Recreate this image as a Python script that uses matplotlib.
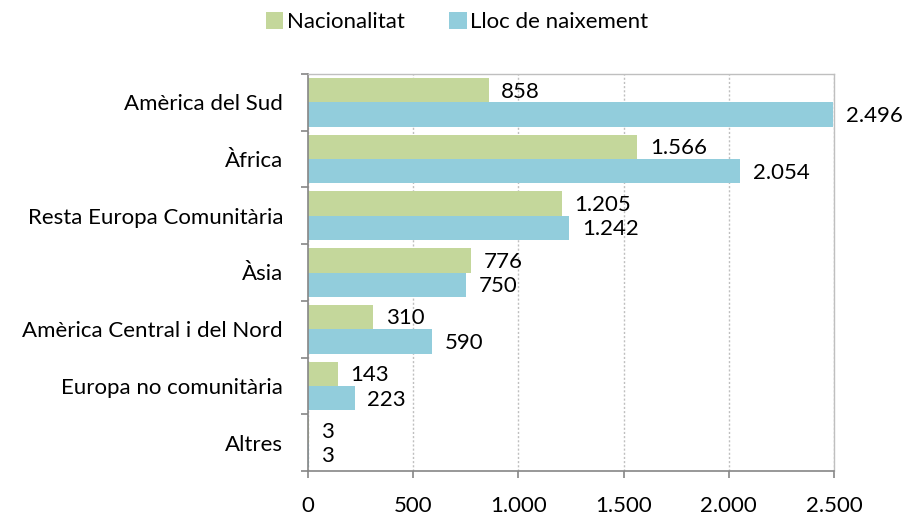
import matplotlib
matplotlib.use("Agg")
import matplotlib.pyplot as plt
import numpy as np

categories = ["Amèrica del Sud", "Àfrica", "Resta Europa Comunitària", "Àsia",
              "Amèrica Central i del Nord", "Europa no comunitària", "Altres"]
nacionalitat = [858, 1566, 1205, 776, 310, 143, 3]
lloc_naixement = [2496, 2054, 1242, 750, 590, 223, 3]
series_names = ["Nacionalitat", "Lloc de naixement"]
xticks = [0, 500, 1000, 1500, 2000, 2500]

plt.rcParams['font.family'] = ['Lato', 'DejaVu Sans']

green = "#C4D79B"
blue = "#92CDDC"

fig = plt.figure(figsize=(9.11, 5.2), dpi=100)
ax = fig.add_axes([308/911, 1-471/520, (834-308)/911, (471-74)/520])

n = len(categories)
y = np.arange(n)
h = 0.43
b1 = ax.barh(y - h/2, nacionalitat, height=h, color=green, label=series_names[0])
b2 = ax.barh(y + h/2, lloc_naixement, height=h, color=blue, label=series_names[1])

def fmt(v):
    return f"{v:,}".replace(",", ".")

for bars, vals in ((b1, nacionalitat), (b2, lloc_naixement)):
    for rect, v in zip(bars, vals):
        ax.annotate(fmt(v), (rect.get_width(), rect.get_y() + rect.get_height()/2),
                    xytext=(9, -1), textcoords="offset points",
                    ha="left", va="center", fontsize=16, color="black")

ax.set_ylim(n - 0.5, -0.5)
ax.set_xlim(0, 2500)
ax.set_yticks(y)
ax.set_yticklabels(categories, fontsize=16)
ax.set_yticks(np.arange(-0.5, n, 1), minor=True)
ax.tick_params(axis="y", which="major", length=0, pad=18)
ax.tick_params(axis="y", which="minor", length=5, color="#868686", width=1.2)
ax.set_xticks(xticks)
ax.set_xticklabels([fmt(v) for v in xticks], fontsize=16)
ax.tick_params(axis="x", length=5, color="#868686", width=1.2, pad=13)

ax.xaxis.grid(True, linestyle=(0, (1.5, 1.5)), color="#BFBFBF", linewidth=1)
ax.set_axisbelow(True)
for s in ("left", "bottom"):
    ax.spines[s].set_color("#868686")
    ax.spines[s].set_linewidth(1.2)
for s in ("top", "right"):
    ax.spines[s].set_color("#BFBFBF")
    ax.spines[s].set_linewidth(1)

fig.legend(handles=[b1, b2], labels=series_names, loc="center",
           bbox_to_anchor=(457/911, 1-22/520), ncol=2, frameon=False,
           fontsize=16, handlelength=0.8, handleheight=0.8,
           handletextpad=0.15, columnspacing=2.0)

fig.savefig("out.png", dpi=100)
